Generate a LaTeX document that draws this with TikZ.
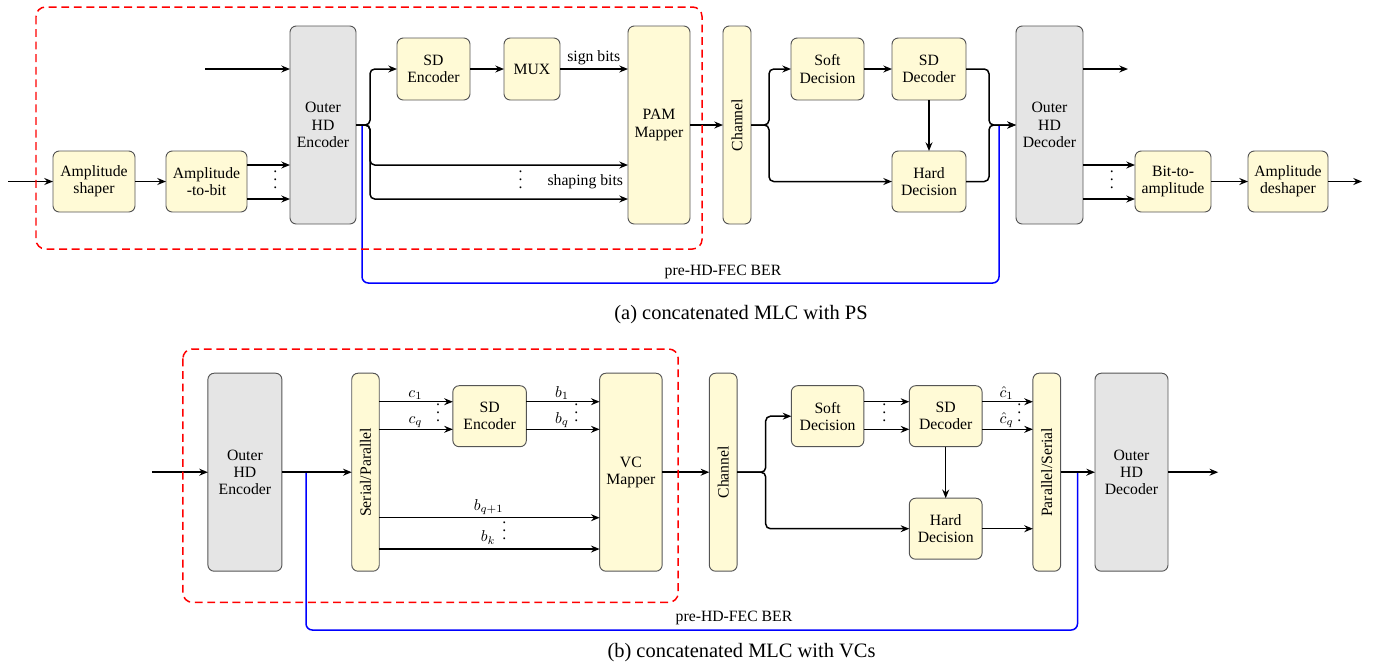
\documentclass[tikz,border=0pt]{standalone}
\usepackage{fontspec}
\setmainfont{Liberation Serif}
\usetikzlibrary{arrows.meta,calc}
\definecolor{ylw}{RGB}{255,250,214}
\definecolor{gry}{RGB}{229,229,229}
\definecolor{bdr}{RGB}{85,85,85}
\def\U{0.636pt}
\newcommand\myvdots{\vbox{\baselineskip=5.2pt\lineskiplimit=0pt\hbox{.}\hbox{.}\hbox{.}}}
\tikzset{
  blk/.style={draw=bdr, line width=0.6pt, rounded corners=4pt, fill=ylw, align=center,
    inner sep=1pt, outer sep=0pt, font=\fontsize{10}{11}\selectfont},
  gblk/.style={blk, fill=gry},
  con/.style={line width=0.95pt, -{Stealth[length=5.5pt,width=4.4pt,inset=1.8pt]}, rounded corners=3pt},
  ber/.style={blue, line width=0.95pt, rounded corners=4pt},
  grp/.style={red, dash pattern=on 5pt off 3pt, line width=0.95pt, rounded corners=6pt},
  lbl/.style={font=\fontsize{10}{11}\selectfont, inner sep=0pt, anchor=base},
  dts/.style={inner sep=0pt, font=\fontsize{10}{11}\selectfont},
  captxt/.style={font=\fontsize{13}{15}\selectfont, inner sep=0pt, anchor=base},
}
\begin{document}
\begin{tikzpicture}[x=0.636pt, y=-0.636pt]
\useasboundingbox (0,0) rectangle (1380,669);

% ================= (a) =================
\coordinate (r3) at (0,165);
\coordinate (r5) at (0,199);
\node[blk, minimum width=82*\U, minimum height=61*\U] (ash) at (94,181.5) {Amplitude\\shaper};
\node[blk, minimum width=81*\U, minimum height=61*\U] (atb) at (206.5,181.5) {Amplitude\\-to-bit};
\node[gblk, minimum width=66*\U, minimum height=198*\U] (enc) at (323,125) {Outer\\HD\\Encoder};
\node[blk, minimum width=73*\U, minimum height=62*\U] (sde) at (433.5,69) {SD\\Encoder};
\node[blk, minimum width=56*\U, minimum height=62*\U] (mux) at (532,69) {MUX};
\node[blk, minimum width=62*\U, minimum height=198*\U] (pam) at (659,125) {PAM\\Mapper};
\node[blk, minimum width=28*\U, minimum height=198*\U] (ch) at (737,125) {\rotatebox{90}{Channel}};
\node[blk, minimum width=73*\U, minimum height=62*\U] (sof) at (827.5,69) {Soft\\Decision};
\node[blk, minimum width=74*\U, minimum height=62*\U] (sdd) at (929,69) {SD\\Decoder};
\node[blk, minimum width=74*\U, minimum height=61*\U] (hd) at (929,181.5) {Hard\\Decision};
\node[gblk, minimum width=67*\U, minimum height=198*\U] (dec) at (1049.5,125) {Outer\\HD\\Decoder};
\node[blk, minimum width=76*\U, minimum height=61*\U] (bta) at (1173,181.5) {Bit-to-\\amplitude};
\node[blk, minimum width=80*\U, minimum height=61*\U] (ads) at (1288,181.5) {Amplitude\\deshaper};

\coordinate (inA) at (8,181.5);
\coordinate (topin) at (205,69);
\coordinate (bA) at (370,125);
\coordinate (bB) at (769,125);
\coordinate (bC) at (989,125);
\coordinate (outA) at (1128,69);
\coordinate (outB) at (1362,181.5);
\coordinate (blA1) at (362,125);
\coordinate (blA2) at (999,125);
\coordinate (blA) at (680,283);

\draw[ber] (blA1) |- (blA) -| (blA2);
\draw[con] (inA) -- (ash.west);
\draw[con] (ash.east) -- (atb.west);
\draw[con] (atb.east |- r3) -- (enc.west |- r3);
\draw[con] (atb.east |- r5) -- (enc.west |- r5);
\node[dts] at (275.3,180) {\myvdots};
\draw[con] (topin) -- (enc.west |- topin);
\draw[con] (enc.east) -- (bA) |- (sde.west);
\draw[con] (enc.east) -- (bA) |- (pam.west |- r3);
\draw[con] (enc.east) -- (bA) |- (pam.west |- r5);
\draw[con] (sde.east) -- (mux.west);
\draw[con] (mux.east) -- (pam.west |- mux.east);
\node[lbl] at (593.7,61.5) {sign bits};
\node[dts] at (520.7,180) {\myvdots};
\node[lbl] at (585.3,185.7) {shaping bits};
\draw[con] (pam.east) -- (ch.west);
\draw[con] (ch.east) -- (bB) |- (sof.west);
\draw[con] (ch.east) -- (bB) |- (hd.west);
\draw[con] (sof.east) -- (sdd.west);
\draw[con] (sdd.south) -- (hd.north);
\draw[con] (sdd.east) -| (bC) -- (dec.west);
\draw[con] (hd.east) -| (bC) -- (dec.west);
\draw[con] (dec.east |- outA) -- (outA);
\draw[con] (dec.east |- r3) -- (bta.west |- r3);
\draw[con] (dec.east |- r5) -- (bta.west |- r5);
\node[dts] at (1111.7,180) {\myvdots};
\draw[con] (bta.east) -- (ads.west);
\draw[con] (ads.east) -- (outB);
\node[lbl] at (723,275) {pre-HD-FEC BER};
\draw[grp] (36,7) rectangle (702,249);
\node[captxt] at (741,319.5) {(a) concatenated MLC with PS};

% ================= (b) =================
\coordinate (s1) at (0,401.7);
\coordinate (s2) at (0,429.3);
\coordinate (s3) at (0,517.7);
\coordinate (s4) at (0,549);
\node[gblk, minimum width=74*\U, minimum height=198*\U] (enc2) at (244.9,472.2) {Outer\\HD\\Encoder};
\node[blk, minimum width=27.5*\U, minimum height=198*\U] (sp) at (365.5,472.2) {\rotatebox{90}{Serial/Parallel}};
\node[blk, minimum width=73.5*\U, minimum height=61*\U] (sde2) at (489.6,416.2) {SD\\Encoder};
\node[blk, minimum width=62.5*\U, minimum height=198*\U] (vc) at (630.9,472.2) {VC\\Mapper};
\node[blk, minimum width=27.8*\U, minimum height=198*\U] (ch2) at (723.2,472.2) {\rotatebox{90}{Channel}};
\node[blk, minimum width=72.5*\U, minimum height=61*\U] (sof2) at (827.6,416.2) {Soft\\Decision};
\node[blk, minimum width=72.8*\U, minimum height=61*\U] (sdd2) at (945.7,416.2) {SD\\Decoder};
\node[blk, minimum width=72.8*\U, minimum height=61*\U] (hd2) at (945.7,528.7) {Hard\\Decision};
\node[blk, minimum width=27.8*\U, minimum height=198*\U] (ps) at (1046.8,472.2) {\rotatebox{90}{Parallel/Serial}};
\node[gblk, minimum width=73*\U, minimum height=198*\U] (dec2) at (1131.5,472.2) {Outer\\HD\\Decoder};

\coordinate (inB) at (151.8,472.2);
\coordinate (outC) at (1218.2,472.2);
\coordinate (bD) at (765.7,472.2);
\coordinate (blB1) at (306,472.2);
\coordinate (blB2) at (1077.5,472.2);
\coordinate (blB) at (700,630);

\draw[ber] (blB1) |- (blB) -| (blB2);
\draw[con] (inB) -- (enc2.west);
\draw[con] (enc2.east) -- (sp.west);
\draw[con] (sp.east |- s1) -- (sde2.west |- s1);
\draw[con] (sp.east |- s2) -- (sde2.west |- s2);
\node[lbl] at (415.4,397.3) {$c_1$};
\node[lbl] at (415.4,423.3) {$c_q$};
\node[dts] at (438.2,413) {\myvdots};
\draw[con] (sde2.east |- s1) -- (vc.west |- s1);
\draw[con] (sde2.east |- s2) -- (vc.west |- s2);
\node[lbl] at (562,397.3) {$b_1$};
\node[lbl] at (562,423.3) {$b_q$};
\node[dts] at (576.4,413) {\myvdots};
\draw[con] (sp.east |- s3) -- (vc.west |- s3);
\draw[con] (sp.east |- s4) -- (vc.west |- s4);
\node[lbl] at (488.6,510) {$b_{q+1}$};
\node[lbl] at (488.2,541.7) {$b_k$};
\node[dts] at (504.3,531) {\myvdots};
\draw[con] (vc.east) -- (ch2.west);
\draw[con] (ch2.east) -- (bD) |- (sof2.west);
\draw[con] (ch2.east) -- (bD) |- (hd2.west);
\draw[con] (sof2.east |- s1) -- (sdd2.west |- s1);
\draw[con] (sof2.east |- s2) -- (sdd2.west |- s2);
\node[dts] at (884.3,413) {\myvdots};
\draw[con] (sdd2.south) -- (hd2.north);
\draw[con] (sdd2.east |- s1) -- (ps.west |- s1);
\draw[con] (sdd2.east |- s2) -- (ps.west |- s2);
\node[lbl] at (1006.6,397.3) {$\hat{c}_1$};
\node[lbl] at (1006.6,423.3) {$\hat{c}_q$};
\node[dts] at (1019.3,413) {\myvdots};
\draw[con] (hd2.east) -- (ps.west |- hd2.east);
\draw[con] (ps.east) -- (dec2.west);
\draw[con] (dec2.east) -- (outC);
\node[lbl] at (734,621.7) {pre-HD-FEC BER};
\draw[grp] (182.9,349) rectangle (678.2,602.3);
\node[captxt] at (741.5,657.3) {(b) concatenated MLC with VCs};
\end{tikzpicture}
\end{document}
